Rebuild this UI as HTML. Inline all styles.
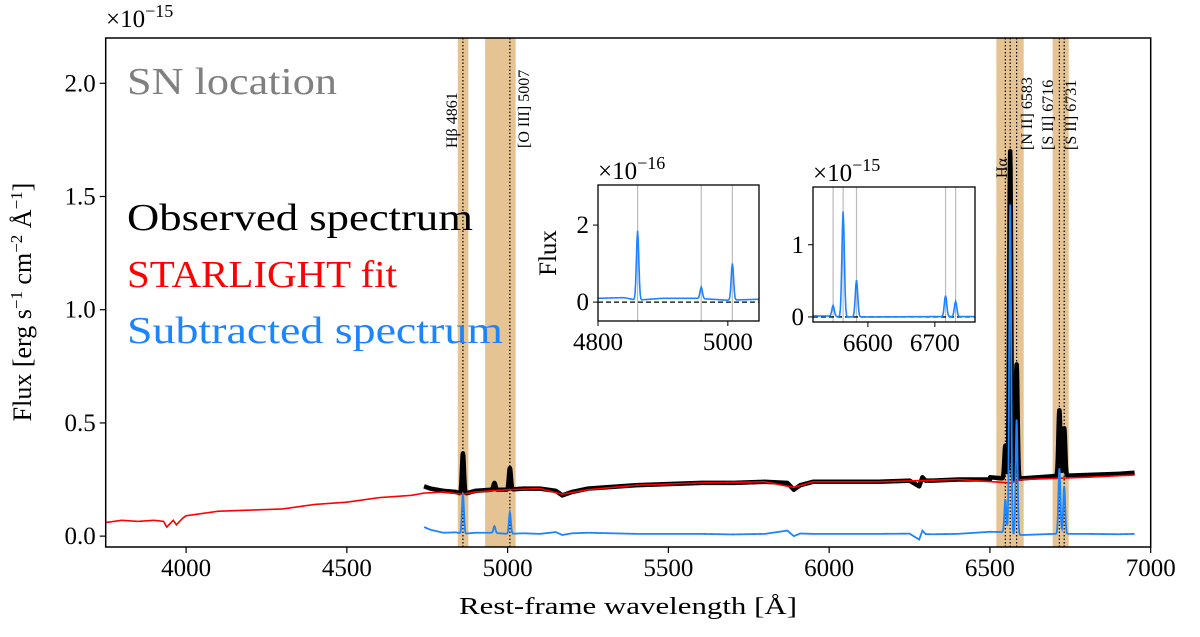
<!DOCTYPE html>
<html><head><meta charset="utf-8"><style>
body{margin:0;background:#fff;}
svg text{font-family:"Liberation Serif","DejaVu Serif",serif;}
</style></head><body>
<svg id="c" width="1200" height="632" xmlns="http://www.w3.org/2000/svg"></svg>
<script>
// ---- data ----
const obsWave = [4740,4760,4800,4840,4860,4900,4950,5000,5050,5100,5150,5170,5200,5250,5300,5400,5500,5600,5700,5800,5870,5890,5910,5950,6050,6150,6250,6280,6290,6300,6320,6400,6500,6540,6563,6600,6700,6800,6900,6950];
const obsCont = [0.22,0.21,0.20,0.195,0.185,0.20,0.205,0.205,0.21,0.21,0.20,0.18,0.195,0.21,0.215,0.225,0.23,0.235,0.235,0.24,0.235,0.205,0.225,0.24,0.24,0.24,0.245,0.22,0.26,0.245,0.245,0.25,0.25,0.245,0.23,0.245,0.255,0.26,0.265,0.27];
const fitWave = [3750,3800,3850,3900,3930,3940,3960,3970,3990,4000,4050,4100,4200,4300,4400,4500,4600,4700,4740,4800,4860,4900,5000,5100,5170,5250,5400,5600,5800,5890,5950,6150,6400,6563,6600,6800,6950];
const fitFlux = [0.06,0.07,0.065,0.07,0.065,0.04,0.07,0.05,0.08,0.09,0.10,0.11,0.115,0.12,0.14,0.15,0.17,0.18,0.19,0.195,0.185,0.195,0.205,0.21,0.185,0.205,0.225,0.235,0.24,0.215,0.24,0.24,0.25,0.235,0.25,0.26,0.27];
const lineNames = ["Hβ","[O III] 4959","[O III] 5007","[N II] 6548","Hα","[N II] 6583","[S II] 6716","[S II] 6731"];
const lineWave = [4861,4959,5007,6548,6563,6583,6716,6731];
const lineAmp = [0.18,0.03,0.095,0.15,1.46,0.51,0.29,0.21]; // 1e-15
const bands = [[4845,4878],[4930,5025],[6520,6605],[6695,6745]];
const markerWave = [4861,5007,6548,6563,6583,6716,6731];
const xTicks = [4000,4500,5000,5500,6000,6500,7000];
const yTicks = [0.0,0.5,1.0,1.5,2.0];
const in1Ticks = [4800,5000], in1Y=[0,2];
const in2Ticks = [6600,6700], in2Y=[0,1];

// ---- helpers ----
const svg=document.getElementById('c');
const NS='http://www.w3.org/2000/svg';
function mk(tag,attrs,parent){const e=document.createElementNS(NS,tag);for(const k in attrs)e.setAttribute(k,attrs[k]);(parent||svg).appendChild(e);return e;}
function interp(xs,ys,x){if(x<=xs[0])return ys[0];for(let i=1;i<xs.length;i++){if(x<=xs[i]){const t=(x-xs[i-1])/(xs[i]-xs[i-1]);return ys[i-1]+t*(ys[i]-ys[i-1]);}}return ys[ys.length-1];}
function lines(x,scale,sig){let s=0;for(let i=0;i<lineWave.length;i++){const d=(x-lineWave[i])/sig;s+=lineAmp[i]*scale*Math.exp(-0.5*d*d);}return s;}
function axis(x0,x1,y0,y1,X0,X1,Y0,Y1){return{x:v=>X0+(v-x0)/(x1-x0)*(X1-X0),y:v=>Y1-(v-y0)/(y1-y0)*(Y1-Y0)};}

// main axes
const L=105.7,R=1150.7,T=38,B=547;
const A=axis(3750,7000,-0.048,2.2,L,R,T,B);
mk('defs',{}).innerHTML='<clipPath id="mc"><rect x="'+L+'" y="'+T+'" width="'+(R-L)+'" height="'+(B-T)+'"/></clipPath>';
const g=mk('g',{'clip-path':'url(#mc)'});


bands.forEach((b,i)=>{const r=mk('rect',{x:A.x(b[0]),y:T,width:A.x(b[1])-A.x(b[0]),height:B-T,fill:'#e5c393'},g);

});
markerWave.forEach((w,i)=>{const l=mk('line',{x1:A.x(w),x2:A.x(w),y1:T,y2:B,stroke:'#000','stroke-width':1.2,'stroke-dasharray':'1.5,2'},g);

});
function path(fn,x0,x1,step,ax){let d='';for(let x=x0;x<=x1;x+=step){d+=(d?'L':'M')+ax.x(x).toFixed(2)+','+ax.y(fn(x)).toFixed(2);}return d;}
const obsP=mk('path',{d:path(x=>interp(obsWave,obsCont,x)+lines(x,1,3)+(x>6500?0.01:0),4740,6950,1,A),fill:'none',stroke:'#000','stroke-width':4.5,'stroke-linejoin':'round'},g);


const fitP=mk('path',{d:path(x=>interp(fitWave,fitFlux,x),3750,6950,2,A),fill:'none',stroke:'#ff0000','stroke-width':1.6},g);


const subP=mk('path',{d:path(x=>interp(obsWave,obsCont,x)-interp(fitWave,fitFlux,x)+0.01+lines(x,1,3),4740,6950,1,A),fill:'none',stroke:'#1a85ff','stroke-width':1.8},g);



// frame & ticks
mk('rect',{x:L,y:T,width:R-L,height:B-T,fill:'none',stroke:'#000','stroke-width':1.5});
xTicks.forEach(v=>{const x=A.x(v);mk('line',{x1:x,x2:x,y1:B,y2:B+6,stroke:'#000','stroke-width':1.2});
const t=mk('text',{x:x,y:B+29,'font-size':25,'text-anchor':'middle'});t.textContent=v;

});
yTicks.forEach(v=>{const y=A.y(v);mk('line',{x1:L-6,x2:L,y1:y,y2:y,stroke:'#000','stroke-width':1.2});
const t=mk('text',{x:L-10,y:y+8,'font-size':25,'text-anchor':'end'});t.textContent=v.toFixed(1);

});
function txt(s,a,name){const t=mk('text',a);t.innerHTML=s;return t;}
txt('×10<tspan dy="-10" font-size="18">−15</tspan>',{x:106,y:27,'font-size':25},'y-scale-factor');
txt('Rest-frame wavelength [Å]',{x:459,y:614,'font-size':24,textLength:338,lengthAdjust:'spacingAndGlyphs'},'x-axis-title');
txt('Flux [erg s<tspan dy="-9" font-size="17">−1</tspan><tspan dy="9"> cm</tspan><tspan dy="-9" font-size="17">−2</tspan><tspan dy="9"> Å</tspan><tspan dy="-9" font-size="17">−1</tspan><tspan dy="9">]</tspan>',{x:0,y:0,'font-size':26,'text-anchor':'middle',transform:'translate(31,302) rotate(-90)'},'y-axis-title');
txt('SN location',{x:127,y:94,'font-size':38,fill:'#808080',textLength:210,lengthAdjust:'spacingAndGlyphs'},'panel-title');
txt('Observed spectrum',{x:127,y:230,'font-size':38,fill:'#000',textLength:346,lengthAdjust:'spacingAndGlyphs'},'legend-observed');
txt('STARLIGHT fit',{x:127,y:287,'font-size':38,fill:'#ff0000',textLength:270,lengthAdjust:'spacingAndGlyphs'},'legend-starlight');
txt('Subtracted spectrum',{x:127,y:343,'font-size':38,fill:'#1a85ff',textLength:376,lengthAdjust:'spacingAndGlyphs'},'legend-subtracted');
function vlab(s,x,yb,name){txt(s,{x:0,y:0,'font-size':16,transform:'translate('+x+','+yb+') rotate(-90)'},name);}
vlab('Hβ 4861',457,148,'label-hbeta');
vlab('[O III] 5007',529,148,'label-oiii');
vlab('Hα',1007,178,'label-halpha');
vlab('[N II] 6583',1032,150,'label-nii');
vlab('[S II] 6716',1053,150,'label-sii-6716');
vlab('[S II] 6731',1076,150,'label-sii-6731');

// insets
function inset(x0,x1,y0,y1,X0,X1,Y0,Y1,scale,xt,yt,exp,grey,name,ylabel){
 const ax=axis(x0,x1,y0,y1,X0,X1,Y0,Y1);
 const gg=mk('g',{});
 mk('rect',{x:X0,y:Y0,width:X1-X0,height:Y1-Y0,fill:'#fff'},gg);
 const cid=name+'-clip';mk('clipPath',{id:cid},gg).appendChild(document.createElementNS(NS,'rect'));
 const cr=gg.querySelector('clipPath rect');cr.setAttribute('x',X0);cr.setAttribute('y',Y0);cr.setAttribute('width',X1-X0);cr.setAttribute('height',Y1-Y0);
 const ig=mk('g',{'clip-path':'url(#'+cid+')'},gg);
 grey.forEach(w=>mk('line',{x1:ax.x(w),x2:ax.x(w),y1:Y0,y2:Y1,stroke:'#bbb','stroke-width':1.2},ig));
 mk('line',{x1:X0,x2:X1,y1:ax.y(0),y2:ax.y(0),stroke:'#000','stroke-width':1.3,'stroke-dasharray':'5,3'},ig);
 const p=mk('path',{d:path(x=>(interp(obsWave,obsCont,x)-interp(fitWave,fitFlux,x)+0.005+lines(x,1,1.8))*scale,x0,x1,1,ax),fill:'none',stroke:'#1a85ff','stroke-width':1.6},ig);
 
 mk('rect',{x:X0,y:Y0,width:X1-X0,height:Y1-Y0,fill:'none',stroke:'#000','stroke-width':1.3},gg);
 xt.forEach(v=>{const x=ax.x(v);mk('line',{x1:x,x2:x,y1:Y1,y2:Y1+5,stroke:'#000'},gg);const t=mk('text',{x:x,y:Y1+29,'font-size':25,'text-anchor':'middle'},gg);t.textContent=v;});
 yt.forEach(v=>{const y=ax.y(v);mk('line',{x1:X0-5,x2:X0,y1:y,y2:y,stroke:'#000'},gg);const t=mk('text',{x:X0-9,y:y+8,'font-size':25,'text-anchor':'end'},gg);t.textContent=v;});
 const e=mk('text',{x:X0,y:Y0-6,'font-size':25},gg);e.innerHTML='×10<tspan dy="-10" font-size="18">'+exp+'</tspan>';
 if(ylabel){mk('text',{x:0,y:0,'font-size':25,'text-anchor':'middle',transform:'translate('+(X0-42)+','+((Y0+Y1)/2)+') rotate(-90)'},gg).textContent=ylabel;}
}
inset(4800,5048,-0.49,3.04,598,759,185,321,10,in1Ticks,in1Y,'−16',[4861,4959,5007],'inset-hbeta-oiii','Flux');
inset(6518,6760,-0.07,1.8,813,975,187,322,1,in2Ticks,in2Y,'−15',[6548,6563,6583,6716,6731],'inset-halpha-nii-sii',null);
</script>
</body></html>
